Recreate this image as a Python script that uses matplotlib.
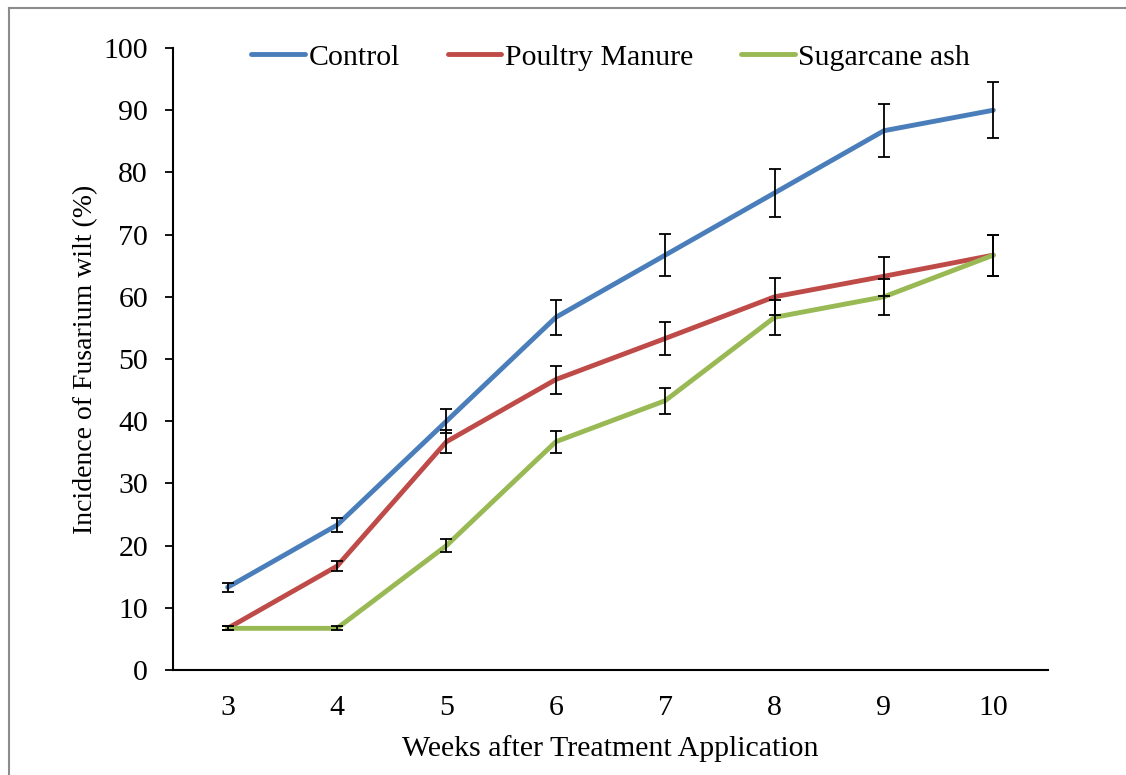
import matplotlib
matplotlib.use("Agg")
import matplotlib.pyplot as plt
from matplotlib.lines import Line2D

# --- Data ---
weeks = [3, 4, 5, 6, 7, 8, 9, 10]
control = [13.3, 23.3, 40.0, 56.7, 66.7, 76.7, 86.7, 90.0]
poultry = [6.7, 16.7, 36.7, 46.7, 53.3, 60.0, 63.3, 66.7]
sugarcane = [6.7, 6.7, 20.0, 36.7, 43.3, 56.7, 60.0, 66.7]
control_err = [0.7, 1.15, 1.9, 2.8, 3.35, 3.8, 4.3, 4.5]
poultry_err = [0.3, 0.8, 1.85, 2.25, 2.6, 3.0, 3.1, 3.3]
sugarcane_err = [0.3, 0.3, 1.0, 1.8, 2.1, 2.8, 2.9, 3.3]
yticks = list(range(0, 101, 10))

series = [
    ("Control", control, control_err, "#4A7EBB"),
    ("Poultry Manure", poultry, poultry_err, "#BE4B48"),
    ("Sugarcane ash", sugarcane, sugarcane_err, "#98B954"),
]

plt.rcParams["font.family"] = ["Liberation Serif", "DejaVu Serif"]
FS = 21.5

fig = plt.figure(figsize=(11.26, 7.75), dpi=100)
ax = fig.add_axes([173 / 1126, 1 - 670 / 775, (1048 - 173) / 1126, (670 - 48) / 775])

for name, vals, err, color in series:
    ax.plot(weeks, vals, color=color, linewidth=3.5, label=name,
            solid_capstyle="round", zorder=2)
for name, vals, err, color in series:
    ax.errorbar(weeks, vals, yerr=err, fmt="none", ecolor="black",
                elinewidth=1.3, capsize=4.5, capthick=1.3, zorder=3)

ax.set_xlim(2.5, 10.5)
ax.set_ylim(0, 100)
ax.set_xticks(weeks)
ax.set_yticks(yticks)
ax.tick_params(axis="x", length=0, pad=18, labelsize=FS)
ax.tick_params(axis="y", length=6, width=1.3, direction="out", pad=12, labelsize=FS)
ax.spines["top"].set_visible(False)
ax.spines["right"].set_visible(False)
ax.spines["left"].set_linewidth(1.5)
ax.spines["bottom"].set_linewidth(1.5)

ax.set_xlabel("Weeks after Treatment Application", fontsize=FS, labelpad=10)
ax.set_ylabel("Incidence of Fusarium wilt (%)", fontsize=20, labelpad=4)

ax.legend(loc="upper center", bbox_to_anchor=(0.5, 1.05), ncol=3, frameon=False,
          fontsize=FS, handlelength=1.8, handletextpad=0.12, columnspacing=1.6)

# gray border: only top and left edges are visible in the frame
fig.add_artist(Line2D([9 / 1126, 9 / 1126], [0, 1 - 8 / 775], transform=fig.transFigure,
                      color="#8c8c8c", linewidth=1.5))
fig.add_artist(Line2D([9 / 1126, 1], [1 - 8 / 775, 1 - 8 / 775], transform=fig.transFigure,
                      color="#8c8c8c", linewidth=1.5))

fig.savefig("out.png", dpi=100)
